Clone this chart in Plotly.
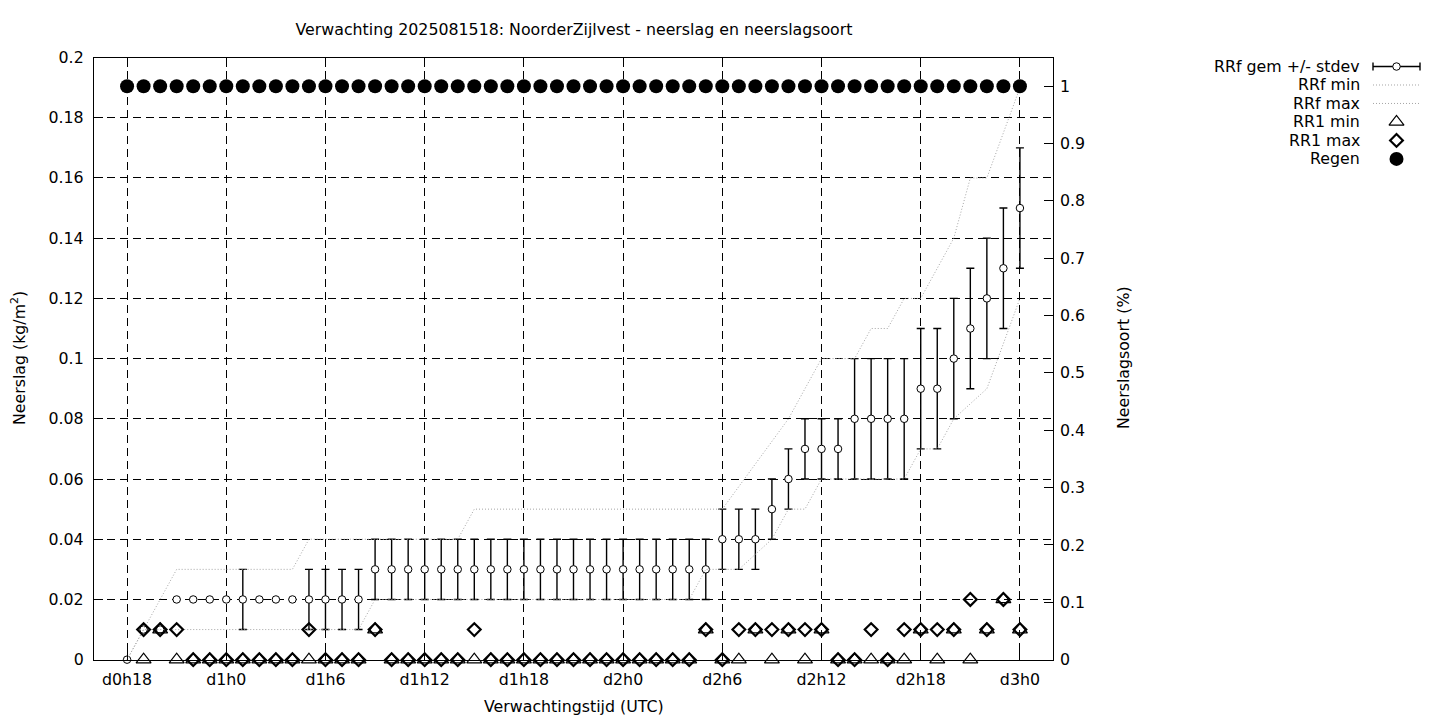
import plotly.graph_objects as go

# ---------------- data ----------------
hours = [18, 19, 20, 21, 22, 23, 24, 25, 26, 27, 28, 29, 30, 31, 32, 33, 34, 35, 36,
         37, 38, 39, 40, 41, 42, 43, 44, 45, 46, 47, 48, 49, 50, 51, 52, 53, 54, 55,
         56, 57, 58, 59, 60, 61, 62, 63, 64, 65, 66, 67, 68, 69, 70, 71, 72]

rrf_mean = [0.00, 0.01, 0.01, 0.02, 0.02, 0.02, 0.02, 0.02, 0.02, 0.02, 0.02, 0.02,
            0.02, 0.02, 0.02, 0.03, 0.03, 0.03, 0.03, 0.03, 0.03, 0.03, 0.03, 0.03,
            0.03, 0.03, 0.03, 0.03, 0.03, 0.03, 0.03, 0.03, 0.03, 0.03, 0.03, 0.03,
            0.04, 0.04, 0.04, 0.05, 0.06, 0.07, 0.07, 0.07, 0.08, 0.08, 0.08, 0.08,
            0.09, 0.09, 0.10, 0.11, 0.12, 0.13, 0.15]

rrf_stdev = [0.00, 0.00, 0.00, 0.00, 0.00, 0.00, 0.00, 0.01, 0.00, 0.00, 0.00, 0.01,
             0.01, 0.01, 0.01, 0.01, 0.01, 0.01, 0.01, 0.01, 0.01, 0.01, 0.01, 0.01,
             0.01, 0.01, 0.01, 0.01, 0.01, 0.01, 0.01, 0.01, 0.01, 0.01, 0.01, 0.01,
             0.01, 0.01, 0.01, 0.01, 0.01, 0.01, 0.01, 0.01, 0.02, 0.02, 0.02, 0.02,
             0.02, 0.02, 0.02, 0.02, 0.02, 0.02, 0.02]

rrf_min = [0.00, 0.01, 0.01, 0.01, 0.01, 0.01, 0.01, 0.01, 0.01, 0.01, 0.01, 0.01,
           0.01, 0.01, 0.01, 0.02, 0.02, 0.02, 0.02, 0.02, 0.02, 0.02, 0.02, 0.02,
           0.02, 0.02, 0.02, 0.02, 0.02, 0.02, 0.02, 0.02, 0.02, 0.02, 0.02, 0.03,
           0.03, 0.03, 0.035, 0.04, 0.05, 0.05, 0.06, 0.06, 0.06, 0.06, 0.06, 0.06,
           0.07, 0.07, 0.08, 0.085, 0.09, 0.105, 0.12]

rrf_max = [0.00, 0.01, 0.02, 0.03, 0.03, 0.03, 0.03, 0.03, 0.03, 0.03, 0.03, 0.04,
           0.04, 0.04, 0.04, 0.04, 0.04, 0.04, 0.04, 0.04, 0.04, 0.05, 0.05, 0.05,
           0.05, 0.05, 0.05, 0.05, 0.05, 0.05, 0.05, 0.05, 0.05, 0.05, 0.05, 0.05,
           0.05, 0.0575, 0.065, 0.0725, 0.08, 0.09, 0.10, 0.10, 0.10, 0.11, 0.11, 0.12,
           0.12, 0.13, 0.14, 0.16, 0.16, 0.175, 0.19]

rr1_min = [None, 0.00, 0.01, 0.00, 0.00, 0.00, 0.00, 0.00, 0.00, 0.00, 0.00, 0.00,
           0.00, 0.00, 0.00, 0.01, 0.00, 0.00, 0.00, 0.00, 0.00, 0.00, 0.00, 0.00,
           0.00, 0.00, 0.00, 0.00, 0.00, 0.00, 0.00, 0.00, 0.00, 0.00, 0.00, 0.01,
           0.00, 0.00, 0.01, 0.00, 0.01, 0.00, 0.01, 0.00, 0.00, 0.00, 0.00, 0.00,
           0.01, 0.00, 0.01, 0.00, 0.01, 0.02, 0.01]

rr1_max = [None, 0.01, 0.01, 0.01, 0.00, 0.00, 0.00, 0.00, 0.00, 0.00, 0.00, 0.01,
           0.00, 0.00, 0.00, 0.01, 0.00, 0.00, 0.00, 0.00, 0.00, 0.01, 0.00, 0.00,
           0.00, 0.00, 0.00, 0.00, 0.00, 0.00, 0.00, 0.00, 0.00, 0.00, 0.00, 0.01,
           0.00, 0.01, 0.01, 0.01, 0.01, 0.01, 0.01, 0.00, 0.00, 0.01, 0.00, 0.01,
           0.01, 0.01, 0.01, 0.02, 0.01, 0.02, 0.01]

regen = [1, 1, 1, 1, 1, 1, 1, 1, 1, 1, 1, 1, 1, 1, 1, 1, 1, 1, 1, 1, 1, 1, 1, 1, 1,
         1, 1, 1, 1, 1, 1, 1, 1, 1, 1, 1, 1, 1, 1, 1, 1, 1, 1, 1, 1, 1, 1, 1, 1, 1,
         1, 1, 1, 1, 1]

x_tickvals = [18, 24, 30, 36, 42, 48, 54, 60, 66, 72]
x_ticktext = ["d0h18", "d1h0", "d1h6", "d1h12", "d1h18", "d2h0", "d2h6", "d2h12", "d2h18", "d3h0"]
y_tickvals = [0, 0.02, 0.04, 0.06, 0.08, 0.1, 0.12, 0.14, 0.16, 0.18, 0.2]
y_ticktext = ["0", "0.02", "0.04", "0.06", "0.08", "0.1", "0.12", "0.14", "0.16", "0.18", "0.2"]
y2_tickvals = [0, 0.1, 0.2, 0.3, 0.4, 0.5, 0.6, 0.7, 0.8, 0.9, 1]
y2_ticktext = ["0", "0.1", "0.2", "0.3", "0.4", "0.5", "0.6", "0.7", "0.8", "0.9", "1"]

legend_labels = ["RRf gem +/- stdev", "RRf min", "RRf max", "RR1 min", "RR1 max", "Regen"]

title_text = "Verwachting 2025081518: NoorderZijlvest - neerslag en neerslagsoort"

# ---------------- layout geometry (pixels in the photographed picture) ----------------
W, H = 1440, 720
PL, PR, PT, PB = 94, 1053, 57, 660
FONT = "DejaVu Sans"
FS = 15.8
GRAY = "rgb(165,165,165)"
DOT = "1px,2px"
# the photographed page is mapped vertically as  y_photo = Y_OFF + Y_SCALE * y_page
Y_OFF, Y_SCALE = 8.4, 0.975


def px_x(p):
    return p / W


def px_y(p):
    return 1 - ((p - Y_OFF) / Y_SCALE) / H


fig = go.Figure()

err = [s if s > 0 else None for s in rrf_stdev]

fig.add_trace(go.Scatter(
    x=hours, y=rrf_mean, mode="markers", name=legend_labels[0], showlegend=False,
    marker=dict(symbol="circle", size=7.5, color="white", line=dict(color="black", width=1)),
    error_y=dict(type="data", array=err, symmetric=True, color="black", thickness=1.4, width=4),
    cliponaxis=False,
))
fig.add_trace(go.Scatter(
    x=hours, y=rrf_min, mode="lines", name=legend_labels[1], showlegend=False,
    line=dict(color=GRAY, width=1, dash=DOT),
))
fig.add_trace(go.Scatter(
    x=hours, y=rrf_max, mode="lines", name=legend_labels[2], showlegend=False,
    line=dict(color=GRAY, width=1, dash=DOT),
))
fig.add_trace(go.Scatter(
    x=hours, y=rr1_min, mode="markers", name=legend_labels[3], showlegend=False,
    marker=dict(symbol="triangle-up-open", size=13, color="black", line=dict(width=1.2)),
    cliponaxis=False,
))
fig.add_trace(go.Scatter(
    x=hours, y=rr1_max, mode="markers", name=legend_labels[4], showlegend=False,
    marker=dict(symbol="diamond-open", size=9.8, color="black", line=dict(width=2.2)),
    cliponaxis=False,
))
fig.add_trace(go.Scatter(
    x=hours, y=regen, mode="markers", name=legend_labels[5], showlegend=False,
    yaxis="y2",
    marker=dict(symbol="circle", size=14, color="black"),
    cliponaxis=False,
))

# ---------------- custom legend (gnuplot style: text right, sample left) ----------------
LEG_ROWS = [66, 84.5, 103, 121.5, 140, 158.5]
LX0, LX1 = 1373, 1420
LXC = (LX0 + LX1) / 2
leg_ax = dict(xaxis="x3", yaxis="y3", showlegend=False, hoverinfo="skip", cliponaxis=False)
fig.add_trace(go.Scatter(x=[LX0, LX1], y=[LEG_ROWS[0]] * 2, mode="lines",
                         line=dict(color="black", width=1), **leg_ax))
fig.add_trace(go.Scatter(x=[LXC], y=[LEG_ROWS[0]], mode="markers",
                         marker=dict(symbol="circle", size=7.5, color="white", line=dict(color="black", width=1)),
                         error_x=dict(type="constant", value=(LX1 - LX0) / 2, color="black", thickness=1.4, width=4),
                         **leg_ax))
for r in (1, 2):
    fig.add_trace(go.Scatter(x=[LX0, LX1], y=[LEG_ROWS[r]] * 2, mode="lines",
                             line=dict(color=GRAY, width=1, dash=DOT), **leg_ax))
fig.add_trace(go.Scatter(x=[LXC], y=[LEG_ROWS[3]], mode="markers",
                         marker=dict(symbol="triangle-up-open", size=13, color="black", line=dict(width=1.2)), **leg_ax))
fig.add_trace(go.Scatter(x=[LXC], y=[LEG_ROWS[4]], mode="markers",
                         marker=dict(symbol="diamond-open", size=9.8, color="black", line=dict(width=2.2)), **leg_ax))
fig.add_trace(go.Scatter(x=[LXC], y=[LEG_ROWS[5]], mode="markers",
                         marker=dict(symbol="circle", size=14, color="black"), **leg_ax))

annotations = []
for lab, ry in zip(legend_labels, LEG_ROWS):
    annotations.append(dict(text=lab, x=px_x(1362), y=px_y(ry), xref="paper", yref="paper",
                            xanchor="right", yanchor="middle", showarrow=False,
                            font=dict(family=FONT, size=FS, color="black")))

# axis titles
annotations.append(dict(text="Verwachtingstijd (UTC)", x=px_x(574), y=px_y(707), xref="paper", yref="paper",
                        xanchor="center", yanchor="middle", showarrow=False,
                        font=dict(family=FONT, size=FS, color="black")))
annotations.append(dict(text="Neerslag (kg/m<sup>2</sup>)", x=px_x(18), y=px_y(358), xref="paper", yref="paper",
                        xanchor="center", yanchor="middle", showarrow=False, textangle=-90,
                        font=dict(family=FONT, size=FS, color="black")))
annotations.append(dict(text="Neerslagsoort (%)", x=px_x(1123), y=px_y(358), xref="paper", yref="paper",
                        xanchor="center", yanchor="middle", showarrow=False, textangle=-90,
                        font=dict(family=FONT, size=FS, color="black")))

grid_common = dict(showgrid=True, gridcolor="black", gridwidth=1, griddash="8px,5px")

fig.update_layout(
    width=W, height=H, autosize=False,
    margin=dict(l=0, r=0, t=0, b=0, pad=0),
    paper_bgcolor="white", plot_bgcolor="white",
    font=dict(family=FONT, size=FS, color="black"),
    showlegend=False,
    title=dict(text=title_text, x=px_x(574), y=px_y(29), xref="paper", yref="paper",
               xanchor="center", yanchor="middle", font=dict(family=FONT, size=FS, color="black")),
    xaxis=dict(domain=[px_x(PL), px_x(PR)], range=[16, 74], anchor="y",
               tickmode="array", tickvals=x_tickvals, ticktext=x_ticktext,
               ticks="inside", ticklen=9, tickwidth=1, tickcolor="black",
               showline=True, linecolor="black", linewidth=1.3, mirror="ticks",
               zeroline=False, ticklabelstandoff=5, **grid_common),
    yaxis=dict(domain=[px_y(PB), px_y(PT)], range=[0, 0.2], anchor="x",
               tickmode="array", tickvals=y_tickvals, ticktext=y_ticktext,
               ticks="inside", ticklen=9, tickwidth=1, tickcolor="black",
               showline=True, linecolor="black", linewidth=1.3, mirror=True,
               zeroline=False, ticklabelstandoff=6, **grid_common),
    yaxis2=dict(overlaying="y", side="right", anchor="x", range=[0, 1.05],
                tickmode="array", tickvals=y2_tickvals, ticktext=y2_ticktext,
                ticks="inside", ticklen=9, tickwidth=1, tickcolor="black",
                showgrid=False, zeroline=False, showline=False, ticklabelstandoff=6),
    xaxis3=dict(domain=[px_x(1365), px_x(1430)], range=[1365, 1430], anchor="y3",
                visible=False, fixedrange=True),
    yaxis3=dict(domain=[px_y(175), px_y(50)], range=[175, 50], anchor="x3",
                visible=False, fixedrange=True),
    annotations=annotations,
)

post = ("document.documentElement.style.margin='0';"
        "document.body.style.margin='0';document.body.style.overflow='hidden';"
        "var gd=document.getElementById('{plot_id}');"
        "gd.style.position='fixed';gd.style.top='0px';gd.style.left='0px';")

fig.write_html("out.html", config={"displayModeBar": False}, post_script=post)
